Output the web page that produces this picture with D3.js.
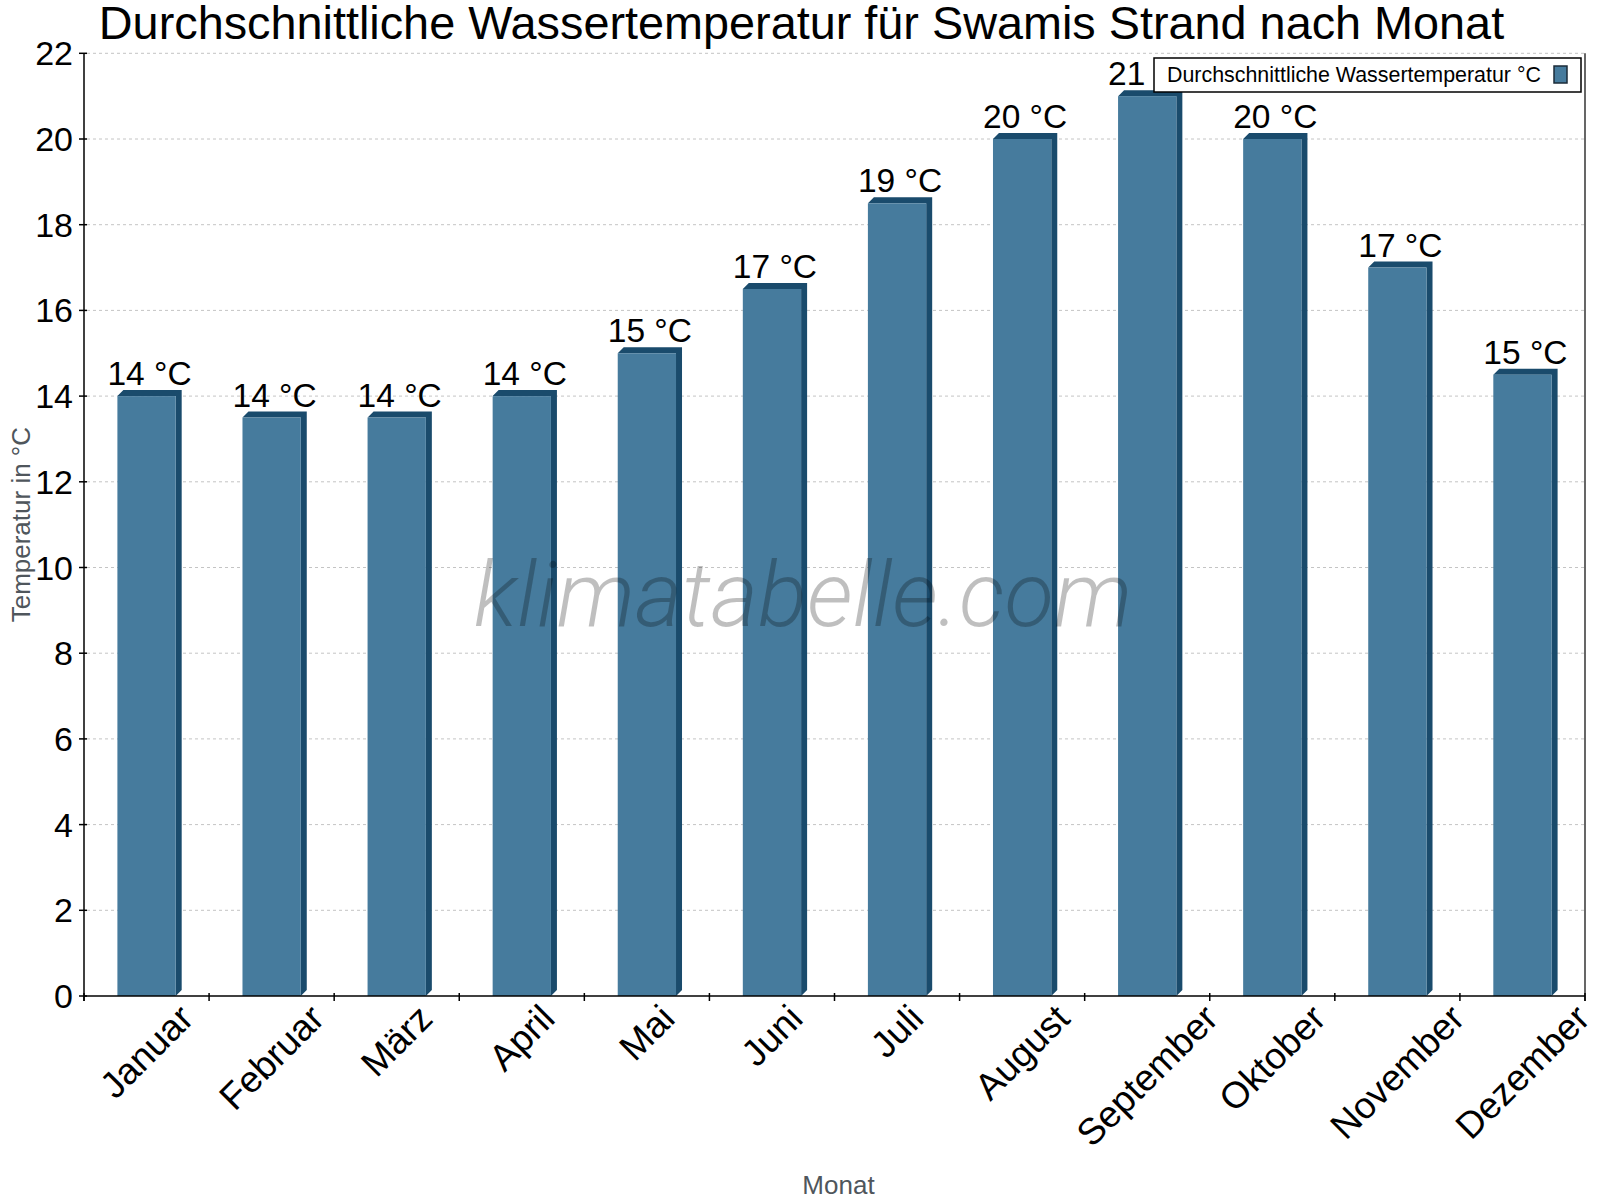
<!DOCTYPE html>
<html>
<head>
<meta charset="utf-8">
<script src="https://cdn.jsdelivr.net/npm/d3@7"></script>
<style>
  body { margin: 0; background: #fff; }
  svg { display: block; font-family: "Liberation Sans", Arial, sans-serif; }
</style>
</head>
<body>
<script>
// Average water temperature per month, bar chart with small 3D edge

//////////////////////////////////////////////////////////////////////////////
// Data
let months = ["Januar", "Februar", "März", "April", "Mai", "Juni", "Juli",
  "August", "September", "Oktober", "November", "Dezember"];
let waterTemp = [14, 13.5, 13.5, 14, 15, 16.5, 18.5, 20, 21, 20, 17, 14.5];
let yTicks = [0, 2, 4, 6, 8, 10, 12, 14, 16, 18, 20, 22];

let titleText = "Durchschnittliche Wassertemperatur für Swamis Strand nach Monat";
let legendText = "Durchschnittliche Wassertemperatur °C";

// Size of the svg and the plot area
let width = 1600;
let height = 1200;
let plotLeft = 84, plotRight = 1585, plotTop = 53.3, plotBottom = 996;

let frontColor = "#467b9d";
let darkColor = "#1a4b6c";
let depth = 6;

let svg = d3.select("body").append("svg")
  .attr("width", width)
  .attr("height", height);

svg.append("rect")
  .attr("width", width)
  .attr("height", height)
  .attr("fill", "#fff");

let x = d3.scaleBand()
  .domain(months)
  .range([plotLeft, plotRight])
  .paddingInner(0)
  .paddingOuter(0);

let y = d3.scaleLinear()
  .domain([0, 22])
  .range([plotBottom, plotTop]);

let barW = x.bandwidth() * 0.466;

//////////////////////////////////////////////////////////////////////////////
// Grid lines
svg.append("g")
  .selectAll("line")
  .data(yTicks.filter(d => d > 0))
  .join("line")
  .attr("x1", plotLeft + 3)
  .attr("x2", plotRight)
  .attr("y1", d => y(d))
  .attr("y2", d => y(d))
  .attr("stroke", "#c4c4c4")
  .attr("stroke-width", 1)
  .attr("stroke-dasharray", "3,3");

//////////////////////////////////////////////////////////////////////////////
// Bars: front face, right side and top face
let bars = svg.append("g")
  .selectAll("g")
  .data(months.map((m, i) => ({ month: m, value: waterTemp[i] })))
  .join("g");

bars.append("path")
  .attr("fill", darkColor)
  .attr("d", d => {
    let x0 = x(d.month) + (x.bandwidth() - barW) / 2;
    let x1 = x0 + barW;
    let yt = y(d.value);
    return `M${x0},${yt} L${x0 + depth},${yt - depth} L${x1 + depth},${yt - depth}` +
      ` L${x1 + depth},${plotBottom - depth} L${x1},${plotBottom} L${x1},${yt} Z`;
  });

bars.append("rect")
  .attr("x", d => x(d.month) + (x.bandwidth() - barW) / 2)
  .attr("y", d => y(d.value))
  .attr("width", barW)
  .attr("height", d => plotBottom - y(d.value))
  .attr("fill", frontColor);

// value labels on top of each bar
bars.append("text")
  .attr("x", d => x(d.month) + x.bandwidth() / 2 + 3)
  .attr("y", d => y(d.value) - 11)
  .attr("text-anchor", "middle")
  .attr("font-size", 33.5)
  .attr("fill", "#000")
  .text(d => Math.round(d.value) + " °C");

//////////////////////////////////////////////////////////////////////////////
// Axes
let axes = svg.append("g").attr("stroke", "#000").attr("stroke-width", 1.5);

axes.append("line")
  .attr("x1", plotLeft).attr("x2", plotLeft)
  .attr("y1", plotTop).attr("y2", plotBottom + 5);
axes.append("line")
  .attr("x1", plotLeft).attr("x2", plotRight)
  .attr("y1", plotBottom).attr("y2", plotBottom);
axes.append("line")
  .attr("x1", plotRight).attr("x2", plotRight)
  .attr("y1", plotTop).attr("y2", plotBottom + 5)
  .attr("stroke-width", 1.2);

// y ticks
axes.selectAll(".ytick")
  .data(yTicks)
  .join("line")
  .attr("class", "ytick")
  .attr("x1", plotLeft - 5).attr("x2", plotLeft + 3)
  .attr("y1", d => y(d)).attr("y2", d => y(d));

// x ticks sit on the band boundaries
axes.selectAll(".xtick")
  .data(d3.range(months.length + 1))
  .join("line")
  .attr("class", "xtick")
  .attr("x1", i => plotLeft + i * x.bandwidth())
  .attr("x2", i => plotLeft + i * x.bandwidth())
  .attr("y1", plotBottom - 3).attr("y2", plotBottom + 5);

svg.append("g")
  .selectAll("text")
  .data(yTicks)
  .join("text")
  .attr("x", plotLeft - 11)
  .attr("y", d => y(d) + 12)
  .attr("text-anchor", "end")
  .attr("font-size", 34)
  .text(d => d);

// month labels: the rotated box is centred under the band, its top just below the axis
let labelSize = 37;
let labelTop = 1000;
svg.append("g")
  .selectAll("text")
  .data(months)
  .join("text")
  .attr("text-anchor", "middle")
  .attr("dominant-baseline", "central")
  .attr("font-size", labelSize)
  .text(d => d)
  .each(function (d) {
    let len = this.getComputedTextLength();
    let half = Math.SQRT1_2 * (len + labelSize * 0.9) / 2;
    d3.select(this).attr("transform",
      `translate(${x(d) + x.bandwidth() / 2},${labelTop + half}) rotate(-45)`);
  });

// axis titles
svg.append("text")
  .attr("transform", `translate(30,${(plotTop + plotBottom) / 2}) rotate(-90)`)
  .attr("text-anchor", "middle")
  .attr("font-size", 26)
  .attr("fill", "#4f565c")
  .text("Temperatur in °C");

svg.append("text")
  .attr("x", (plotLeft + plotRight) / 2 + 4)
  .attr("y", 1194)
  .attr("text-anchor", "middle")
  .attr("font-size", 26)
  .attr("fill", "#4f565c")
  .text("Monat");

// title
svg.append("text")
  .attr("x", 801.5)
  .attr("y", 39)
  .attr("text-anchor", "middle")
  .attr("font-size", 46.8)
  .attr("fill", "#000")
  .text(titleText);

//////////////////////////////////////////////////////////////////////////////
// Legend
let legend = svg.append("g");
legend.append("rect")
  .attr("x", 1154).attr("y", 58)
  .attr("width", 427).attr("height", 34)
  .attr("fill", "#fff")
  .attr("stroke", "#000")
  .attr("stroke-width", 1.5);
legend.append("text")
  .attr("x", 1167).attr("y", 82)
  .attr("font-size", 21.4)
  .text(legendText);
legend.append("rect")
  .attr("x", 1554).attr("y", 66)
  .attr("width", 13).attr("height", 17)
  .attr("fill", frontColor)
  .attr("stroke", "#1b2b38")
  .attr("stroke-width", 1.5);

//////////////////////////////////////////////////////////////////////////////
// Watermark
svg.append("text")
  .attr("x", 803)
  .attr("y", 626)
  .attr("text-anchor", "middle")
  .attr("font-family", "Roboto, sans-serif")
  .attr("font-style", "italic")
  .attr("font-weight", 300)
  .attr("font-size", 91)
  .attr("fill", "rgba(0,0,0,0.25)")
  .text("klimatabelle.com");
</script>
</body>
</html>
